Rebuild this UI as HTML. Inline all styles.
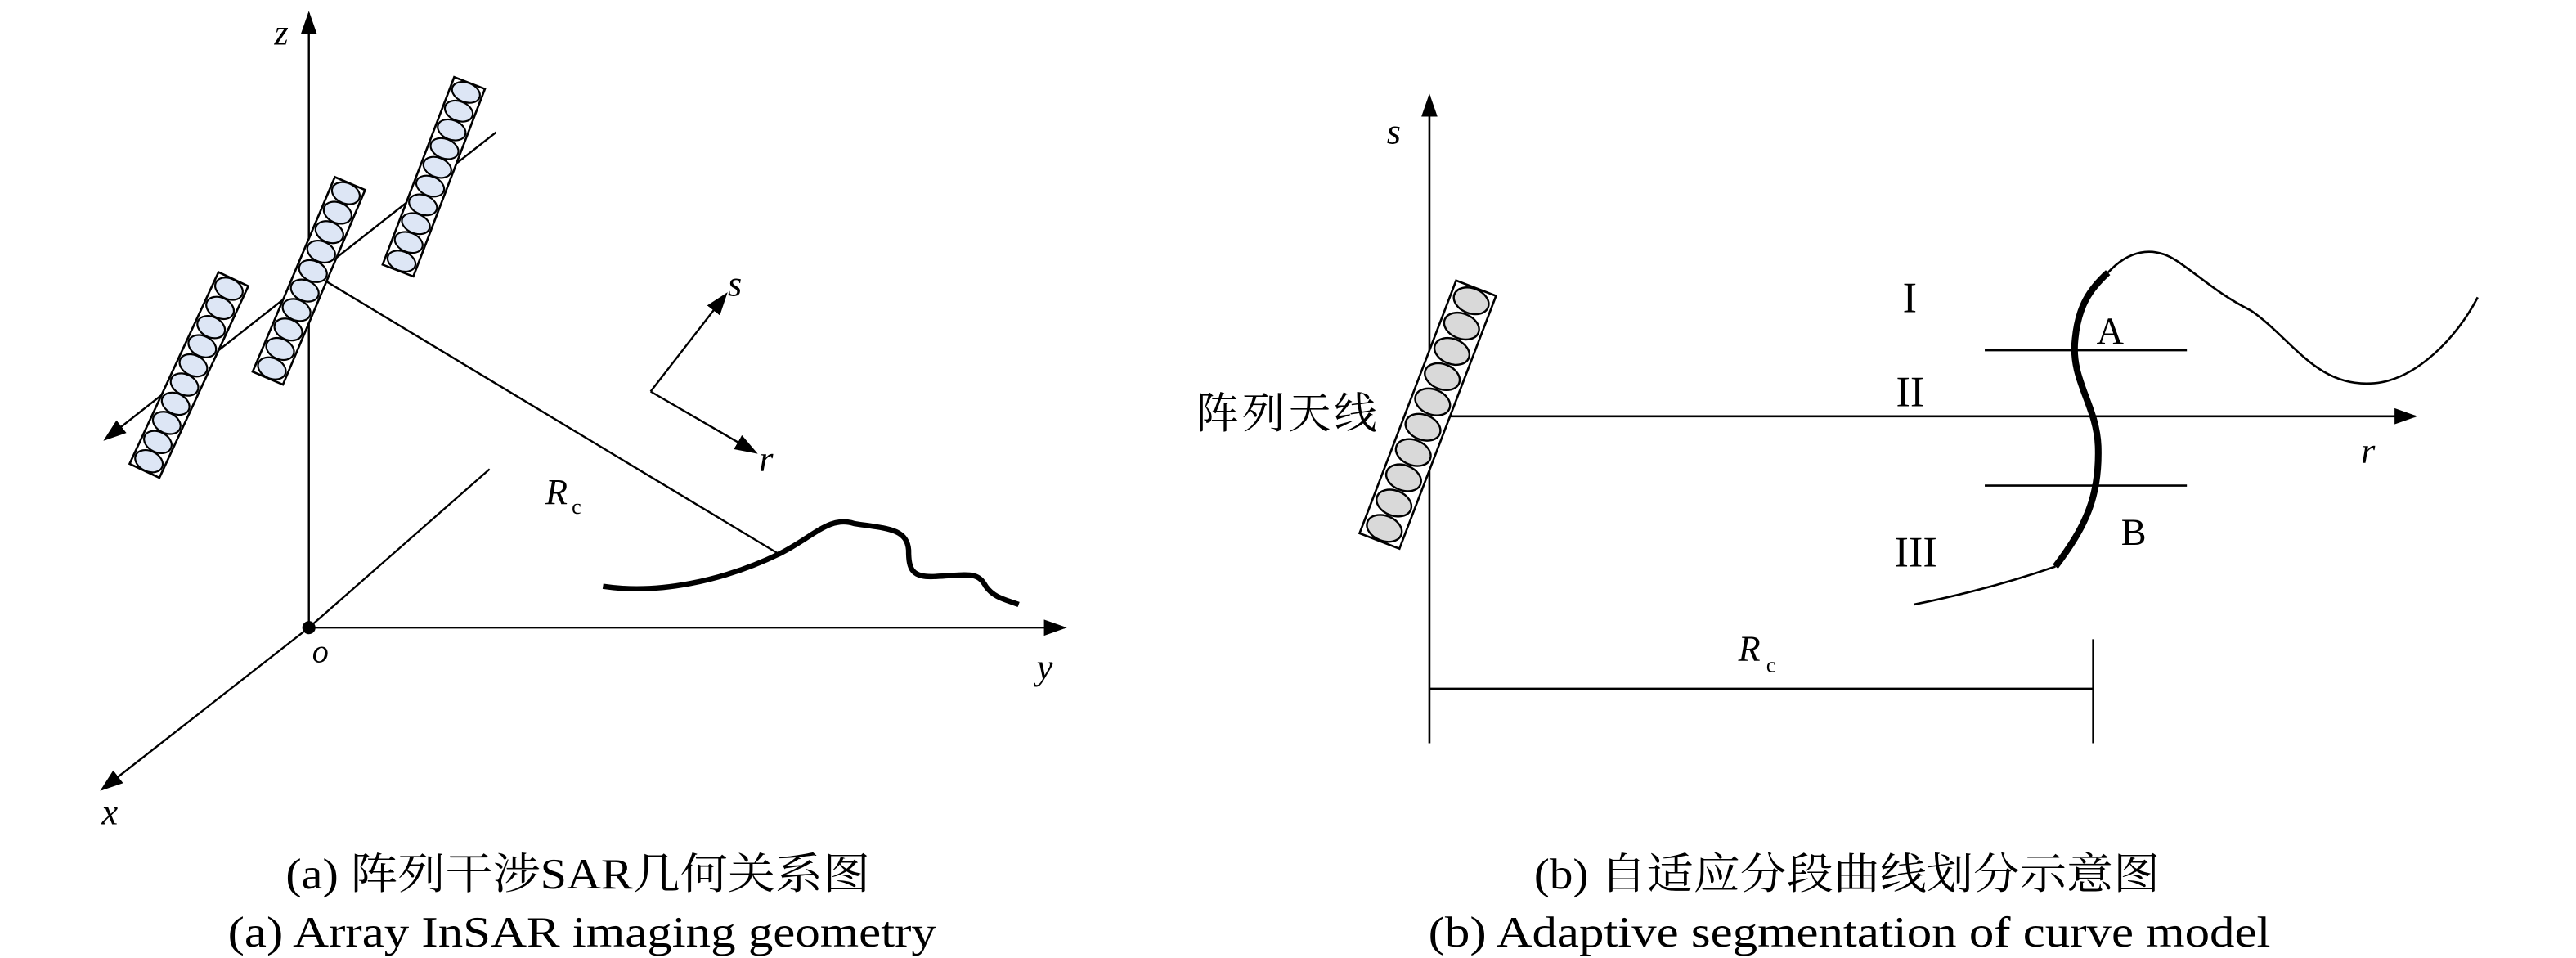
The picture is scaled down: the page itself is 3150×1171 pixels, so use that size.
<!DOCTYPE html>
<html><head><meta charset="utf-8"><style>
html,body{margin:0;padding:0;background:#fff;}
svg{display:block;}
text{font-family:"Liberation Serif","Noto Serif CJK SC","Noto Sans CJK SC",serif;fill:#000;}
.it{font-style:italic;}
</style></head><body>
<svg width="3150" height="1171" viewBox="0 0 1560 580" preserveAspectRatio="none" xmlns="http://www.w3.org/2000/svg">
<defs>
<marker id="ar" viewBox="0 0 10 10" refX="9" refY="5" markerWidth="14" markerHeight="14" markerUnits="userSpaceOnUse" orient="auto">
<path d="M0,1.5 L10,5 L0,8.5 Z" fill="#000"/></marker>
<g id="antA">
<rect x="-10" y="-64" width="20" height="128" fill="#fff" stroke="#000" stroke-width="1.3"/>
<g fill="#dde6f5" stroke="#000" stroke-width="1.1">
<ellipse cx="0" cy="-57.6" rx="8.8" ry="6.2"/><ellipse cx="0" cy="-44.8" rx="8.8" ry="6.2"/>
<ellipse cx="0" cy="-32" rx="8.8" ry="6.2"/><ellipse cx="0" cy="-19.2" rx="8.8" ry="6.2"/>
<ellipse cx="0" cy="-6.4" rx="8.8" ry="6.2"/><ellipse cx="0" cy="6.4" rx="8.8" ry="6.2"/>
<ellipse cx="0" cy="19.2" rx="8.8" ry="6.2"/><ellipse cx="0" cy="32" rx="8.8" ry="6.2"/>
<ellipse cx="0" cy="44.8" rx="8.8" ry="6.2"/><ellipse cx="0" cy="57.6" rx="8.8" ry="6.2"/>
</g></g>
</defs>
<g transform="scale(0.995,1)">
<g stroke="#000" stroke-width="1.2" fill="none">
<line x1="188" y1="380" x2="188" y2="8" marker-end="url(#ar)"/>
<line x1="188" y1="380" x2="648" y2="380" marker-end="url(#ar)"/>
<line x1="188" y1="380" x2="62" y2="478" marker-end="url(#ar)"/>
<line x1="188" y1="380" x2="298" y2="284"/>
<line x1="302" y1="80" x2="64" y2="266" marker-end="url(#ar)"/>
<line x1="198" y1="170" x2="475" y2="336"/>
<line x1="396" y1="237" x2="442" y2="178" marker-end="url(#ar)"/>
<line x1="396" y1="237" x2="460" y2="274" marker-end="url(#ar)"/>
<path d="M367,355 C400,360 440,352 475,335 C495,325 505,312 520,317 C540,320 552,320 553,333 C553,345 555,350 570,349 C590,348 595,346 600,355 C605,362 612,363 620,366" stroke-width="3.2"/>
</g>
<g transform="translate(115,227) rotate(25)"><use href="#antA"/></g>
<g transform="translate(188,170) rotate(23)"><use href="#antA"/></g>
<g transform="translate(264,107) rotate(21) scale(1,0.95)"><use href="#antA"/></g>
<circle cx="188" cy="380" r="4" fill="#000"/>
<text x="167" y="27" font-size="22" class="it">z</text>
<text x="631" y="411" font-size="22" class="it">y</text>
<text x="62" y="499" font-size="22" class="it">x</text>
<text x="190" y="401" font-size="20" class="it">o</text>
<text x="443" y="179" font-size="22" class="it">s</text>
<text x="462" y="285" font-size="22" class="it">r</text>
<text x="332" y="305" font-size="22" class="it">R</text><text x="348" y="311" font-size="13">c</text>

<g stroke="#000" stroke-width="1.3" fill="none">
<line x1="870" y1="450" x2="870" y2="58" marker-end="url(#ar)"/>
<line x1="870" y1="252" x2="1470" y2="252" marker-end="url(#ar)"/>
<line x1="870" y1="417" x2="1274" y2="417"/>
<line x1="1274" y1="387" x2="1274" y2="450"/>
<line x1="1208" y1="212" x2="1331" y2="212"/>
<line x1="1208" y1="294" x2="1331" y2="294"/>
<path d="M1165,366 C1195,360 1225,352 1251,343"/>
<path d="M1251,343 C1270,318 1278,300 1277,270 C1276,245 1260,230 1263,205 C1265,185 1272,175 1283,165" stroke-width="4"/>
<path d="M1283,165 C1295,152 1310,148 1325,158 C1340,168 1350,178 1370,188 C1395,205 1410,235 1445,232 C1470,230 1495,205 1508,180"/>
</g>
<g transform="translate(869,251) rotate(21)">
<rect x="-13" y="-82" width="26" height="164" fill="#fff" stroke="#000" stroke-width="1.3"/>
<g fill="#d9d9d9" stroke="#000" stroke-width="1.2">
<ellipse cx="0" cy="-73.8" rx="11" ry="7.6"/><ellipse cx="0" cy="-57.4" rx="11" ry="7.6"/>
<ellipse cx="0" cy="-41" rx="11" ry="7.6"/><ellipse cx="0" cy="-24.6" rx="11" ry="7.6"/>
<ellipse cx="0" cy="-8.2" rx="11" ry="7.6"/><ellipse cx="0" cy="8.2" rx="11" ry="7.6"/>
<ellipse cx="0" cy="24.6" rx="11" ry="7.6"/><ellipse cx="0" cy="41" rx="11" ry="7.6"/>
<ellipse cx="0" cy="57.4" rx="11" ry="7.6"/><ellipse cx="0" cy="73.8" rx="11" ry="7.6"/>
</g></g>
<text x="844" y="87" font-size="22" class="it">s</text>
<text x="1437" y="280" font-size="22" class="it">r</text>
<text x="1058" y="400" font-size="22" class="it">R</text><text x="1075" y="407" font-size="13">c</text>
<text x="728" y="259" font-size="26" textLength="110" font-family="Noto Sans CJK SC, sans-serif">阵列天线</text>
<text x="1158" y="189" font-size="26">I</text>
<text x="1154" y="246" font-size="26">II</text>
<text x="1153" y="343" font-size="26">III</text>
<text x="1276" y="208" font-size="23">A</text>
<text x="1291" y="330" font-size="23">B</text>
</g>

<text x="173" y="538" font-size="26" textLength="354" lengthAdjust="spacingAndGlyphs">(a) 阵列干涉SAR几何关系图</text>
<text x="138" y="573" font-size="26" textLength="429" lengthAdjust="spacingAndGlyphs">(a) Array InSAR imaging geometry</text>
<text x="929" y="538" font-size="26" textLength="379" lengthAdjust="spacingAndGlyphs">(b) 自适应分段曲线划分示意图</text>
<text x="865" y="573" font-size="26" textLength="510" lengthAdjust="spacingAndGlyphs">(b) Adaptive segmentation of curve model</text>
</svg>
</body></html>
